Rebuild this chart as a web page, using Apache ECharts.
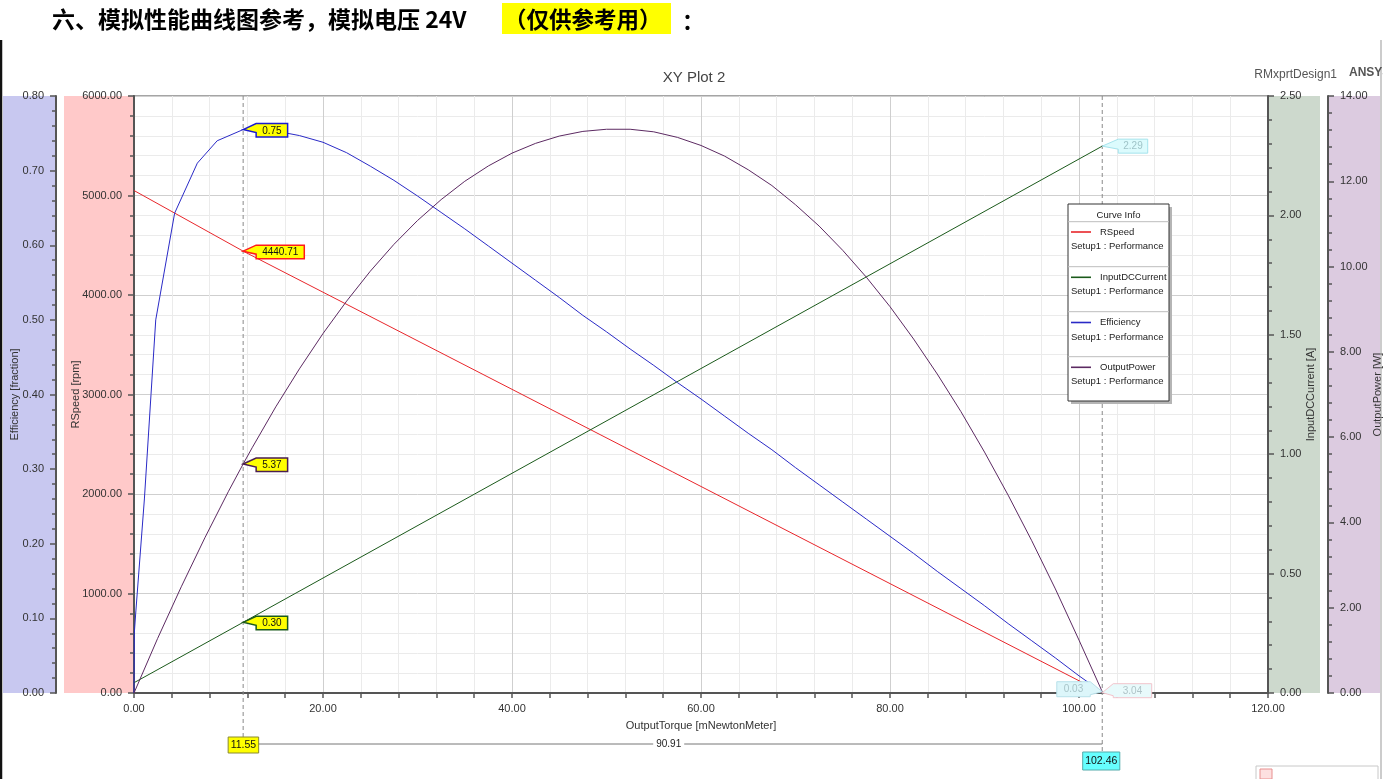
<!DOCTYPE html>
<html><head><meta charset="utf-8">
<script src="https://cdn.jsdelivr.net/npm/echarts@6/dist/echarts.min.js"></script>
<style>html,body{margin:0;padding:0;background:#fff;overflow:hidden}#c{width:1383px;height:779px}</style>
</head><body><div id="c"></div>
<script>
// ---------- data ----------
const seriesNames = ['RSpeed', 'InputDCCurrent', 'Efficiency', 'OutputPower'];
const speedTorque = [0, 11.55, 102.46];
const speedValues = [5050, 4440.71, 3.04];
const currentTorque = [0, 11.55, 102.46];
const currentValues = [0.043, 0.296, 2.29];
const effTorque = [0, 0.03, 0.2, 1.1, 1.8, 2.3, 4.3, 6.7, 8.8, 11.55, 12.5, 15, 17.5, 20, 22.5, 25, 27.5, 30, 32.5, 35, 37.5, 40, 42.5, 45, 47.5, 50, 52.5, 55, 57.5, 60, 62.5, 65, 67.5, 70, 72.5, 75, 77.5, 80, 82.5, 85, 87.5, 90, 92.5, 95, 97.5, 100, 102.46];
const effValues = [0, 0.08, 0.11, 0.26, 0.40, 0.50, 0.643, 0.71, 0.74, 0.755, 0.756, 0.753, 0.747, 0.738, 0.724, 0.706, 0.687, 0.666, 0.644, 0.622, 0.599, 0.576, 0.553, 0.530, 0.506, 0.484, 0.461, 0.439, 0.416, 0.394, 0.371, 0.348, 0.326, 0.302, 0.279, 0.256, 0.233, 0.210, 0.187, 0.163, 0.140, 0.117, 0.093, 0.070, 0.047, 0.023, 0.001];
const powerTorque = [0, 2.5, 5, 7.5, 10, 11.55, 12.5, 15, 17.5, 20, 22.5, 25, 27.5, 30, 32.5, 35, 37.5, 40, 42.5, 45, 47.5, 50, 52.5, 55, 57.5, 60, 62.5, 65, 67.5, 70, 72.5, 75, 77.5, 80, 82.5, 85, 87.5, 90, 92.5, 95, 97.5, 100, 102.46];
const powerValues = [0, 1.28, 2.49, 3.64, 4.73, 5.37, 5.75, 6.71, 7.60, 8.43, 9.19, 9.89, 10.52, 11.08, 11.57, 12.00, 12.36, 12.66, 12.89, 13.06, 13.17, 13.22, 13.22, 13.16, 13.03, 12.84, 12.59, 12.27, 11.90, 11.45, 10.95, 10.38, 9.75, 9.06, 8.30, 7.48, 6.60, 5.65, 4.64, 3.57, 2.44, 1.24, 0.03];
const cursorTorque = [11.55, 102.46];
const cursorTorqueLabels = ['11.55', '102.46'];
const cursorDeltaLabel = '90.91';
// values at cursor A (11.55) per series: speed, current, efficiency, power
const cursorAValues = [4440.71, 0.296, 0.755, 5.37];
const cursorALabels = ['4440.71', '0.30', '0.75', '5.37'];
// values at cursor B (102.46): current, power, speed
const cursorBValues = [2.29, 0.03, 3.04];
const cursorBLabels = ['2.29', '0.03', '3.04'];
const titleText = 'XY Plot 2';
const headerMain = '六、模拟性能曲线图参考，模拟电压 24V';
const headerNote = '（仅供参考用）';
const headerColon = '：';
const axisNames = ['Efficiency [fraction]', 'RSpeed [rpm]', 'InputDCCurrent [A]', 'OutputPower [W]', 'OutputTorque [mNewtonMeter]'];
const legendTitle = 'Curve Info';
const legendSub = 'Setup1 : Performance';

// ---------- styles ----------
const F = '"Liberation Sans", Arial, sans-serif';
const colors = ['#e8262b', '#1b5a1b', '#2a2ac6', '#5c2a62'];
const pair = (xs, ys) => xs.map((x, i) => [x, ys[i]]);
const fmt2 = v => Number(v).toFixed(2);

const chart = echarts.init(document.getElementById('c'), null, {renderer: 'canvas'});

function yAx(opts) {
  return Object.assign({
    type: 'value',
    nameLocation: 'middle',
    nameMoveOverlap: false,
    nameTextStyle: {fontFamily: F, fontSize: 11, color: '#333'},
    axisLine: {show: true, onZero: false, lineStyle: {color: '#555', width: 2}},
    axisTick: {show: true, length: 6, lineStyle: {color: '#555', width: 1.5}},
    minorTick: {show: true, splitNumber: 5, length: 4, lineStyle: {color: '#555', width: 1.5}},
    axisLabel: {fontFamily: F, fontSize: 11, color: '#333', margin: 12, formatter: fmt2},
    splitLine: {show: false},
    minorSplitLine: {show: false}
  }, opts);
}

const option = {
  animation: false,
  backgroundColor: '#fff',
  grid: {left: 134, right: 115, top: 96, bottom: 86, show: true, borderColor: '#888', borderWidth: 1.5, containLabel: false, outerBoundsMode: 'none'},
  xAxis: {
    type: 'value', min: 0, max: 120, interval: 20,
    name: axisNames[4], nameLocation: 'middle', nameGap: 27, nameMoveOverlap: false,
    nameTextStyle: {fontFamily: F, fontSize: 11, color: '#333'},
    axisLine: {show: true, onZero: false, lineStyle: {color: '#555', width: 2}},
    axisTick: {show: true, length: 5, lineStyle: {color: '#555', width: 1.5}},
    minorTick: {show: true, splitNumber: 5, length: 5, lineStyle: {color: '#555', width: 1.5}},
    axisLabel: {fontFamily: F, fontSize: 11, color: '#333', margin: 10, formatter: fmt2},
    splitLine: {show: true, lineStyle: {color: '#cfcfcf', width: 1}},
    minorSplitLine: {show: true, lineStyle: {color: '#ebebeb', width: 1}}
  },
  yAxis: [
    yAx({name: axisNames[0], position: 'left', offset: 78, min: 0, max: 0.8, interval: 0.1, nameGap: 36}),
    yAx({name: axisNames[1], position: 'left', offset: 0, min: 0, max: 6000, interval: 1000, nameGap: 53,
      splitLine: {show: true, lineStyle: {color: '#cfcfcf', width: 1}},
      minorSplitLine: {show: true, lineStyle: {color: '#ebebeb', width: 1}}}),
    yAx({name: axisNames[2], position: 'right', offset: 0, min: 0, max: 2.5, interval: 0.5, nameGap: 37}),
    yAx({name: axisNames[3], position: 'right', offset: 60, min: 0, max: 14, interval: 2, nameGap: 44})
  ],
  series: [
    {name: seriesNames[0], type: 'line', yAxisIndex: 1, data: pair(speedTorque, speedValues)},
    {name: seriesNames[1], type: 'line', yAxisIndex: 2, data: pair(currentTorque, currentValues)},
    {name: seriesNames[2], type: 'line', yAxisIndex: 0, data: pair(effTorque, effValues)},
    {name: seriesNames[3], type: 'line', yAxisIndex: 3, data: pair(powerTorque, powerValues)}
  ].map((s, i) => Object.assign(s, {
    xAxisIndex: 0, symbol: 'none', showSymbol: false, silent: true, z: 3,
    lineStyle: {color: colors[i], width: 1}, itemStyle: {color: colors[i]}
  }))
};
chart.setOption(option);

// ---------- annotations positioned through the chart's scales ----------
const px = v => chart.convertToPixel({xAxisIndex: 0}, v);
const py = (k, v) => chart.convertToPixel({yAxisIndex: k}, v);
const mctx = document.createElement('canvas').getContext('2d');
const textW = (t, font) => { mctx.font = font; return mctx.measureText(t).width; };

function txt(x, y, text, o) {
  o = o || {};
  return {
    type: 'text', z: o.z || 20, silent: true,
    style: Object.assign({
      text: text, x: x, y: y, fill: o.fill || '#222',
      font: o.font || ('10px ' + F),
      align: o.align || 'left', verticalAlign: o.va || 'middle',
      textAlign: o.align || 'left', textVerticalAlign: o.va || 'middle'
    }, o.extra || {})
  };
}
function rect(x, y, w, h, fill, stroke, z, lw) {
  return {type: 'rect', z: z == null ? 0 : z, silent: true, shape: {x: x, y: y, width: w, height: h},
    style: {fill: fill, stroke: stroke || null, lineWidth: lw || 1}};
}
function line(x1, y1, x2, y2, stroke, lw, dash, z) {
  return {type: 'line', z: z || 15, silent: true, shape: {x1: x1, y1: y1, x2: x2, y2: y2},
    style: {stroke: stroke, lineWidth: lw || 1, lineDash: dash || null}};
}
function tag(tipX, tipY, text, o) {
  const font = '10px ' + F;
  const w = textW(text, font) + (o.pad || 12);
  const T = tipY - (o.up || 6), B = tipY + (o.down || 7.5);
  let pts, L, R;
  if (o.side === 'left') {
    R = tipX - (o.gap || 12); L = R - w;
    pts = [[tipX, tipY], [R, tipY + 3], [R, B], [L, B], [L, T], [R, T]];
  } else {
    L = tipX + (o.gap || 13); R = L + w;
    pts = [[tipX, tipY], [L, T], [R, T], [R, B], [L, B], [L, tipY + 3]];
  }
  return [
    {type: 'polygon', z: 30, silent: true, shape: {points: pts},
      style: {fill: o.fill, stroke: o.stroke, lineWidth: o.lw || 1.5}},
    txt((L + R) / 2, (T + B) / 2 + 0.5, text, {z: 31, align: 'center', fill: o.color || '#111', font: font})
  ];
}

function buildGraphics() {
  const g = [];
  const yTop = py(1, 6000), yBot = py(1, 0);
  const xL = px(0), xR = px(120);
  // axis colour panels
  g.push(rect(3, yTop, xL - 78 - 3, yBot - yTop, '#c8c8f0', null, -5));
  g.push(rect(64, yTop, xL - 64, yBot - yTop, '#ffc9c9', null, -5));
  g.push(rect(xR, yTop, 52, yBot - yTop, '#cdd9cd', null, -5));
  g.push(rect(xR + 60, yTop, 52, yBot - yTop, '#dccbe0', null, -5));

  // page frame
  g.push(line(1, 40, 1, 779, '#111', 2.5, null, 1));
  g.push(line(1381, 40, 1381, 779, '#999', 1, null, 1));

  // header
  g.push(rect(502, 3, 169, 31, '#ffff00', null, 1));
  g.push(txt(52, 19, headerMain, {font: 'bold 23px "Noto Sans CJK SC", sans-serif', fill: '#000'}));
  g.push(txt(504, 19, headerNote, {font: 'bold 22.5px "Noto Sans CJK SC", sans-serif', fill: '#000', z: 21}));
  g.push(txt(682, 21, headerColon, {font: 'bold 22px "Noto Sans CJK SC", sans-serif', fill: '#000'}));

  // titles
  g.push(txt(694, 78, titleText, {align: 'center', font: '15px ' + F, fill: '#444'}));
  g.push(txt(1337, 75, 'RMxprtDesign1', {align: 'right', font: '12px ' + F, fill: '#555'}));
  g.push(txt(1349, 73, 'ANSYS', {align: 'left', font: 'bold 12px ' + F, fill: '#555'}));

  // cursors
  const cA = px(cursorTorque[0]), cB = px(cursorTorque[1]);
  g.push(line(cA, yTop, cA, 737, '#8a8a8a', 1, [4, 3], 12));
  g.push(line(cB, yTop, cB, 752, '#8a8a8a', 1, [4, 3], 12));
  g.push(line(cA + 14, 744, cB, 744, '#777', 1, null, 12));
  g.push(txt((cA + cB) / 2 - 4, 744, cursorDeltaLabel, {align: 'center', font: '10px ' + F, fill: '#222',
    extra: {backgroundColor: '#fff', padding: [1, 3]}}));
  const wA = textW(cursorTorqueLabels[0], '10.5px ' + F) + 5;
  g.push(rect(cA - 15, 737, wA, 16, '#ffff00', '#8a8a30', 20));
  g.push(txt(cA - 15 + wA / 2, 745.5, cursorTorqueLabels[0], {align: 'center', font: '10.5px ' + F, fill: '#111', z: 21}));
  const wB = textW(cursorTorqueLabels[1], '10.5px ' + F) + 5;
  g.push(rect(cB - wB / 2 - 1, 752, wB, 18, '#66ffff', '#55aaaa', 20));
  g.push(txt(cB - 1, 761.5, cursorTorqueLabels[1], {align: 'center', font: '10.5px ' + F, fill: '#111', z: 21}));

  // cursor A tags (speed, current, efficiency, power)
  const axisOf = [1, 2, 0, 3];
  const strokes = ['#ff1a1a', '#1b5a1b', '#1a1ad0', '#4a1e50'];
  cursorAValues.forEach((v, i) => {
    g.push(...tag(cA, py(axisOf[i], v), cursorALabels[i], {fill: '#ffff00', stroke: strokes[i], side: 'right'}));
  });
  // cursor B tags (faded)
  g.push(...tag(cB, py(2, cursorBValues[0]), cursorBLabels[0], {fill: '#dcfbfd', stroke: '#a5e3ec', color: '#9fc4c8', side: 'right', gap: 16, pad: 10, up: 7, down: 7, lw: 1}));
  g.push(...tag(cB, py(3, cursorBValues[1]), cursorBLabels[1], {fill: '#dcf6fa', stroke: '#b8e0ea', color: '#a8c4c8', side: 'left', gap: 12, pad: 14, up: 10, down: 5, lw: 1}));
  g.push(...tag(cB, py(1, cursorBValues[2]), cursorBLabels[2], {fill: '#e8fafb', stroke: '#f2c4cc', color: '#b0c4c8', side: 'right', gap: 11, pad: 19, up: 9, down: 5, lw: 1}));

  // Curve Info legend
  const LX = 1068, LY = 204, LW = 101, LH = 197;
  g.push(rect(LX + 3, LY + 3, LW, LH, '#b5b5b5', null, 40));
  g.push(rect(LX, LY, LW, LH, '#ffffff', '#333', 41));
  g.push(txt(LX + LW / 2, 215, legendTitle, {align: 'center', font: '9.5px ' + F, fill: '#222', z: 42}));
  [221.7, 266.7, 311.7, 356.7].forEach(y => g.push(line(LX, y, LX + LW, y, '#bdbdbd', 1, null, 42)));
  const rowY = [232, 277.3, 322.5, 367.3];
  seriesNames.forEach((n, i) => {
    g.push(line(LX + 3, rowY[i], LX + 23, rowY[i], colors[i], 1.6, null, 42));
    g.push(txt(LX + 32, rowY[i], n, {font: '9.5px ' + F, fill: '#222', z: 42}));
    g.push(txt(LX + 3, rowY[i] + 14.5, legendSub, {font: '9.5px ' + F, fill: '#222', z: 42}));
  });

  // partially visible box bottom-right
  g.push(rect(1256, 766, 122, 20, '#fff', '#c8c8c8', 5));
  g.push(rect(1260, 769, 12, 10, '#fde0e0', '#e89090', 6));
  return g;
}
chart.setOption({graphic: {elements: buildGraphics()}});
</script>
</body></html>
